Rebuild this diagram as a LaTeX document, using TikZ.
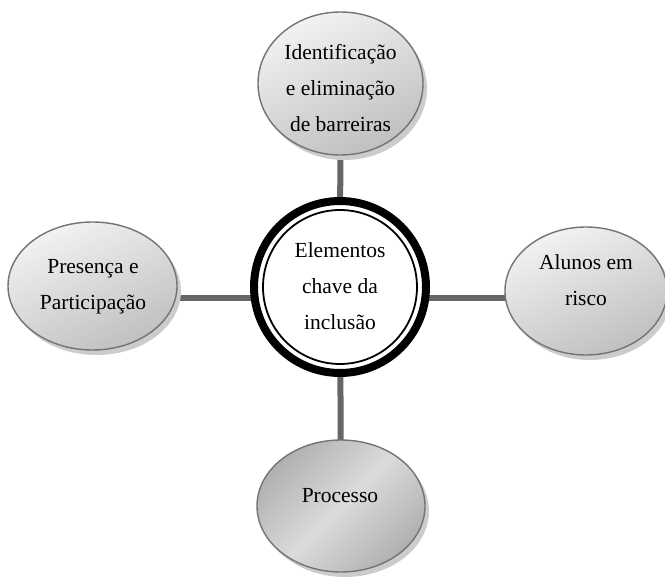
\documentclass[tikz,border=0pt]{standalone}
\usepackage{fontspec}
\setmainfont{Liberation Serif}
\usetikzlibrary{shapes.geometric,shadows,backgrounds}

\tikzset{
  bubble/.style={ellipse, draw=black!55, line width=1.4pt, inner sep=0pt,
    top color=gray!10, bottom color=gray!50, shading angle=25,
    drop shadow={shadow xshift=4pt, shadow yshift=-5pt, fill=gray!40, opacity=1}},
  darkbubble/.style={ellipse, draw=black!55, line width=1.4pt, inner sep=0pt,
    left color=gray!62, right color=gray!62, middle color=gray!28, shading angle=45,
    drop shadow={shadow xshift=4pt, shadow yshift=-5pt, fill=gray!40, opacity=1}},
  caption/.style={align=center, inner sep=0pt, text=black,
    font=\fontsize{21.5}{36}\selectfont},
  conn/.style={draw=black!60, line width=6pt},
}

\begin{document}
\begin{tikzpicture}[x=1pt,y=-1pt]
  \useasboundingbox (0,0) rectangle (665,585);

  % outer bubbles
  \node[bubble, minimum width=165pt, minimum height=143pt] (T) at (340.5,83.5) {};
  \node[bubble, minimum width=169pt, minimum height=128pt] (L) at (92.5,286) {};
  \node[bubble, minimum width=162pt, minimum height=128pt] (R) at (586,291) {};
  \node[darkbubble, minimum width=168pt, minimum height=132pt] (B) at (341,506) {};

  % central ring
  \node[circle, draw=black, line width=8pt, fill=white, minimum size=172pt, inner sep=0pt] (C) at (340,287) {};
  \draw[black, line width=1.8pt] (C.center) circle (77);

  % connectors behind the shapes
  \coordinate (hline) at (0,298);
  \begin{pgfonlayer}{background}
    \draw[conn] (T.center) -- (C.center);
    \draw[conn] (C.center) -- (B.center);
    \draw[conn] (L.center |- hline) -- (C.center |- hline);
    \draw[conn] (C.center |- hline) -- (R.center |- hline);
  \end{pgfonlayer}

  % captions
  \node[caption] (Tt) at (340.5,88.5) {Identificação\\e eliminação\\de barreiras};
  \node[caption] (Lt) at (93,287) {Presença e\\Participação};
  \node[caption] (Rt) at (586,280) {Alunos em\\risco};
  \node[caption] (Bt) at (340,496) {Processo};
  \node[caption] (Ct) at (340,286) {Elementos\\chave da\\inclusão};
\end{tikzpicture}
\end{document}
